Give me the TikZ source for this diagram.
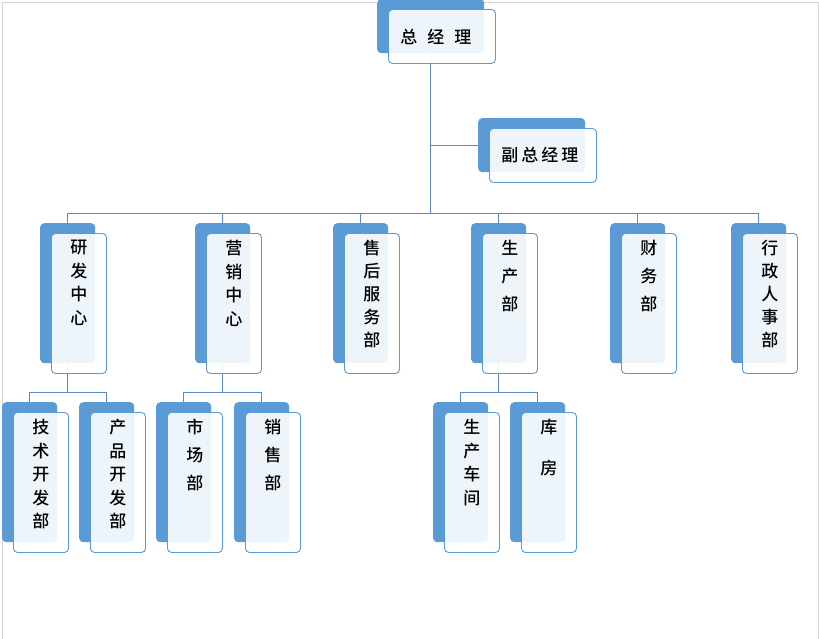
\documentclass[tikz,border=0pt]{standalone}
\usepackage{fontspec}
\newfontfamily\cjk{Noto Sans CJK SC Medium}
\definecolor{deptblue}{HTML}{5B9BD5}
\definecolor{linkblue}{HTML}{5A8AC6}
\definecolor{framegray}{HTML}{D4D4D4}
\tikzset{
	backbox/.style={draw=none, fill=deptblue, rounded corners=4pt, anchor=north west, inner sep=0pt},
	frontbox/.style={draw=deptblue, line width=0.9pt, fill=white, fill opacity=0.9, rounded corners=4pt, anchor=north west, inner sep=0pt},
	wide/.style={minimum width=107pt, minimum height=54pt},
	tall/.style={minimum width=55pt, minimum height=140pt},
	depttext/.style={font=\cjk\fontsize{17}{#1}\selectfont, align=center, inner sep=0pt, anchor=north},
	link/.style={draw=linkblue, line width=0.8pt},
}
\begin{document}
\begin{tikzpicture}[x=1pt, y=-1pt]
		\useasboundingbox ( 0, 0 ) rectangle ( 819, 638 );
		% рамка
		\draw [framegray, line width=1pt] ( 2, 640 ) -- ( 2, 2 ) -- ( 818, 2 ) -- ( 818, 640 );

		% задние блоки
		\node [backbox, wide] (zjl-b) at ( 377, -1 ) {};
		\node [backbox, wide] (fzjl-b) at ( 478, 118 ) {};
		\node [backbox, tall] (yf-b) at ( 40, 223 ) {};
		\node [backbox, tall] (yx-b) at ( 195, 223 ) {};
		\node [backbox, tall] (sh-b) at ( 333, 223 ) {};
		\node [backbox, tall] (sc-b) at ( 471, 223 ) {};
		\node [backbox, tall] (cw-b) at ( 610, 223 ) {};
		\node [backbox, tall] (xz-b) at ( 731, 223 ) {};
		\node [backbox, tall] (js-b) at ( 2, 402 ) {};
		\node [backbox, tall] (cp-b) at ( 79, 402 ) {};
		\node [backbox, tall] (scb-b) at ( 156, 402 ) {};
		\node [backbox, tall] (xs-b) at ( 234, 402 ) {};
		\node [backbox, tall] (cj-b) at ( 433, 402 ) {};
		\node [backbox, tall] (kf-b) at ( 510, 402 ) {};

		% связи
		\coordinate (bus) at ( 0, 213 );
		\coordinate (sub) at ( 0, 392 );
		\draw [link] (zjl-b.south) -- (zjl-b.south |- bus);
		\draw [link] (fzjl-b.west) -- (fzjl-b.west -| zjl-b.south);
		\draw [link] (yf-b.north |- bus) -- (xz-b.north |- bus);
		\foreach \d in {yf, yx, sh, sc, cw, xz}
			\draw [link] (\d-b.north) -- (\d-b.north |- bus);
		\draw [link] (yf-b.south) -- (yf-b.south |- sub);
		\draw [link] (js-b.north |- sub) -- (cp-b.north |- sub);
		\draw [link] (yx-b.south) -- (yx-b.south |- sub);
		\draw [link] (scb-b.north |- sub) -- (xs-b.north |- sub);
		\draw [link] (sc-b.south) -- (sc-b.south |- sub);
		\draw [link] (cj-b.north |- sub) -- (kf-b.north |- sub);
		\foreach \d in {js, cp, scb, xs, cj, kf}
			\draw [link] (\d-b.north) -- (\d-b.north |- sub);

		% передние блоки
		\foreach \d/\s in {zjl/wide, fzjl/wide, yf/tall, yx/tall, sh/tall, sc/tall, cw/tall, xz/tall, js/tall, cp/tall, scb/tall, xs/tall, cj/tall, kf/tall}
			\node [frontbox, \s] (\d-f) at ([xshift=11pt, yshift=-10pt]\d-b.north west) {};

		% подписи
		\node [depttext=20pt, anchor=center] (zjl-t) at ([xshift=-6pt]zjl-f.center) {总\hspace{10pt}经\hspace{10pt}理};
		\node [depttext=20pt, anchor=center] (fzjl-t) at ([xshift=-3pt]fzjl-f.center) {副\hspace{3pt}总\hspace{3pt}经\hspace{3pt}理};
		\node [depttext=23.5pt] (yf-t) at ([yshift=-7pt]yf-f.north) {研\\发\\中\\心};
		\node [depttext=23.5pt] (yx-t) at ([yshift=-7pt]yx-f.north) {营\\销\\中\\心};
		\node [depttext=23pt] (sh-t) at ([yshift=-7pt]sh-f.north) {售\\后\\服\\务\\部};
		\node [depttext=28pt] (sc-t) at ([yshift=-7pt]sc-f.north) {生\\产\\部};
		\node [depttext=28pt] (cw-t) at ([yshift=-7pt]cw-f.north) {财\\务\\部};
		\node [depttext=23pt] (xz-t) at ([yshift=-7pt]xz-f.north) {行\\政\\人\\事\\部};
		\node [depttext=23.5pt] (js-t) at ([yshift=-7pt]js-f.north) {技\\术\\开\\发\\部};
		\node [depttext=23.5pt] (cp-t) at ([yshift=-7pt]cp-f.north) {产\\品\\开\\发\\部};
		\node [depttext=28pt] (scb-t) at ([yshift=-7pt]scb-f.north) {市\\场\\部};
		\node [depttext=28pt] (xs-t) at ([yshift=-7pt]xs-f.north) {销\\售\\部};
		\node [depttext=23.5pt] (cj-t) at ([yshift=-7pt]cj-f.north) {生\\产\\车\\间};
		\node [depttext=41pt] (kf-t) at ([yshift=-7pt]kf-f.north) {库\\房};
\end{tikzpicture}
\end{document}
